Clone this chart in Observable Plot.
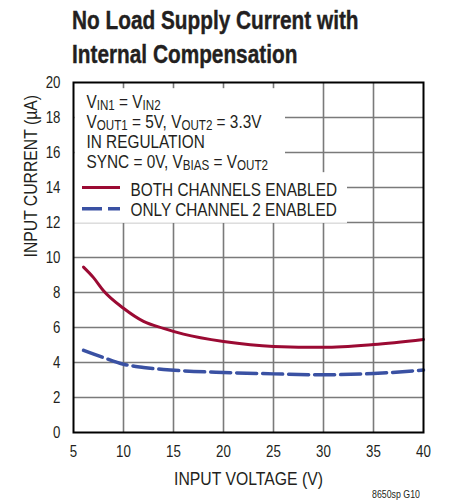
<!DOCTYPE html>
<html>
<head>
<meta charset="utf-8">
<script src="https://cdn.jsdelivr.net/npm/d3@7"></script>
<script src="https://cdn.jsdelivr.net/npm/@observablehq/plot@0.6"></script>
<style>
  html, body { margin: 0; padding: 0; background: #fff; }
  #wrap { position: relative; width: 450px; height: 500px; overflow: hidden;
          font-family: "Liberation Sans", Arial, sans-serif; color: #231f20; }
  #title { position: absolute; left: 72px; top: 3px; font-weight: bold; font-size: 26px; line-height: 34px;
           white-space: nowrap; transform: scaleX(0.8); transform-origin: 0 0; -webkit-text-stroke: 0.4px #231f20; }
  #chart { position: absolute; left: 0; top: 72px; }
  #caption { position: absolute; left: 372px; top: 488px; font-size: 11px; white-space: nowrap;
             transform: scaleX(0.8); transform-origin: 0 0; }
</style>
</head>
<body>
<div id="wrap">
  <div id="title">No Load Supply Current with<br>Internal Compensation</div>
  <div id="chart"></div>
  <div id="caption">8650sp G10</div>
</div>
<script>
const FONT = '"Liberation Sans", Arial, sans-serif';
const SQUEEZE = 0.83;

// ---- data ----
const xTicks = [5, 10, 15, 20, 25, 30, 35, 40];
const yTicks = [0, 2, 4, 6, 8, 10, 12, 14, 16, 18, 20];

const voltageBoth = [6, 7, 8, 10, 12, 14, 16, 20, 25, 30, 35, 40];
const currentBoth = [9.45, 8.85, 8.1, 7.1, 6.35, 5.95, 5.62, 5.2, 4.92, 4.87, 5.03, 5.32];

const voltageCh2 = [6, 8, 10, 12, 14, 16, 20, 25, 30, 35, 40];
const currentCh2 = [4.7, 4.28, 3.9, 3.72, 3.6, 3.52, 3.43, 3.35, 3.3, 3.37, 3.57];

const seriesNames = ["BOTH CHANNELS ENABLED", "ONLY CHANNEL 2 ENABLED"];
const noteLines = [
  "V_{IN1} = V_{IN2}",
  "V_{OUT1} = 5V, V_{OUT2} = 3.3V",
  "IN REGULATION",
  "SYNC = 0V, V_{BIAS} = V_{OUT2}"
];
const xLabel = "INPUT VOLTAGE (V)";
const yLabel = "INPUT CURRENT (µA)";

// ---- styling / layout ----
const RED = "#9b0a33";
const BLUE = "#3a51a3";
const noteBaselines = [25, 45, 65, 85];      // px offsets from frame top
const legendBaselines = [113, 133];
const legendSwatchY = [14.0, 12.78];          // legend swatch positions (value units)
const legendSwatchX = [5.9, 9.7];

const both = voltageBoth.map((v, i) => ({v, c: currentBoth[i]}));
const ch2 = voltageCh2.map((v, i) => ({v, c: currentCh2[i]}));

const chart = Plot.plot({
  width: 450,
  height: 428,
  marginTop: 10,
  marginBottom: 68,
  marginLeft: 73,
  marginRight: 27,
  style: { fontFamily: FONT, fontSize: "16px", color: "#231f20", background: "transparent", overflow: "visible" },
  x: { domain: [5, 40], ticks: xTicks, tickSize: 0, tickPadding: 13, label: null },
  y: { domain: [0, 20], ticks: yTicks, tickSize: 0, tickPadding: 13, label: null },
  marks: [
    Plot.ruleX(xTicks.slice(1, -1), { stroke: "#7a7a7a", strokeWidth: 1.6 }),
    Plot.ruleY(yTicks.slice(1, -1), { stroke: "#7a7a7a", strokeWidth: 1.6 }),
    ...noteLines.map((t, i) => Plot.text([t], {
      text: d => d, frameAnchor: "top-left", dx: 13, dy: noteBaselines[i],
      lineAnchor: "bottom", textAnchor: "start", fontSize: 18.5, fill: "#231f20",
      ariaDescription: "note"
    })),
    Plot.ruleY([legendSwatchY[0]], { x1: legendSwatchX[0], x2: legendSwatchX[1], stroke: RED, strokeWidth: 3, ariaDescription: "legend" }),
    Plot.ruleY([legendSwatchY[1]], { x1: legendSwatchX[0], x2: legendSwatchX[1], stroke: BLUE, strokeWidth: 3.5, strokeDasharray: "20,6", ariaDescription: "legend" }),
    ...seriesNames.map((t, i) => Plot.text([t], {
      text: d => d, frameAnchor: "top-left", dx: 57, dy: legendBaselines[i],
      lineAnchor: "bottom", textAnchor: "start", fontSize: 18.5, fill: "#231f20",
      ariaDescription: "legend"
    })),
    Plot.line(both, { x: "v", y: "c", stroke: RED, strokeWidth: 3, curve: "monotone-x" }),
    Plot.line(ch2, { x: "v", y: "c", stroke: BLUE, strokeWidth: 3.5, strokeDasharray: "20,6", curve: "monotone-x" }),
    Plot.frame({ stroke: "black", strokeWidth: 2 }),
    Plot.text([xLabel], { text: d => d, frameAnchor: "bottom", dy: 52, lineAnchor: "bottom", fontSize: 19, fill: "#231f20" }),
    Plot.text([yLabel], { text: d => d, frameAnchor: "left", dx: -37, rotate: -90, lineAnchor: "bottom", fontSize: 19, fill: "#231f20" })
  ]
});

document.getElementById("chart").appendChild(chart);

// subscripts
d3.select(chart).selectAll("text").each(function () {
  const s = this.textContent;
  if (!s.includes("_{")) return;
  const el = d3.select(this);
  el.text(null);
  const re = /_\{([^}]*)\}/g;
  let last = 0, m, shifted = false;
  while ((m = re.exec(s))) {
    if (m.index > last) {
      const t = el.append("tspan").text(s.slice(last, m.index));
      if (shifted) { t.attr("dy", -2); shifted = false; }
    }
    el.append("tspan").attr("font-size", 14).attr("dy", 2).text(m[1]);
    shifted = true;
    last = m.index + m[0].length;
  }
  if (last < s.length) {
    const t = el.append("tspan").text(s.slice(last));
    if (shifted) t.attr("dy", -2);
  }
});

// condensed look: squeeze every text horizontally about its own anchor
d3.select(chart).selectAll("text").each(function () {
  const x = +(this.getAttribute("x") || 0);
  const tr = this.getAttribute("transform") || "";
  this.setAttribute("transform", `${tr} translate(${x},0) scale(${SQUEEZE},1) translate(${-x},0)`);
});

// white backing boxes behind the annotation blocks (computed from rendered text)
function backing(desc, pad) {
  const groups = chart.querySelectorAll(`[aria-description="${desc}"]`);
  if (!groups.length) return;
  const sr = chart.getBoundingClientRect();
  let x0 = Infinity, y0 = Infinity, x1 = -Infinity, y1 = -Infinity;
  groups.forEach(g => {
    const r = g.getBoundingClientRect();
    x0 = Math.min(x0, r.left - sr.left); y0 = Math.min(y0, r.top - sr.top);
    x1 = Math.max(x1, r.right - sr.left); y1 = Math.max(y1, r.bottom - sr.top);
  });
  const rect = document.createElementNS("http://www.w3.org/2000/svg", "rect");
  rect.setAttribute("x", x0 - pad[0]);
  rect.setAttribute("y", y0 - pad[2]);
  rect.setAttribute("width", (x1 + pad[1]) - (x0 - pad[0]));
  rect.setAttribute("height", (y1 + pad[3]) - (y0 - pad[2]));
  rect.setAttribute("fill", "white");
  groups[0].parentNode.insertBefore(rect, groups[0]);
}
backing("note", [12, 17, 3, 4]);
backing("legend", [8, 10, 7, 3]);
</script>
</body>
</html>
